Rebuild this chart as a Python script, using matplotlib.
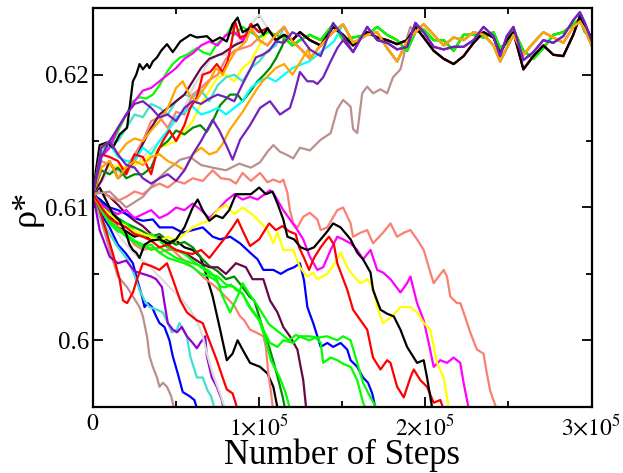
import matplotlib
matplotlib.use('Agg')
import matplotlib.pyplot as plt
from matplotlib.ticker import FixedLocator

plt.rcParams['mathtext.fontset'] = 'stix'
plt.rcParams['font.family'] = ['Liberation Serif', 'DejaVu Serif']

STEP_UNIT = 1000  # x lists below are in thousands of steps

# ---------------- colours (xmgrace palette) ----------------
BLACK = '#000000'; RED = '#ff0000'; LIME = '#00ff00'; BLUE = '#0000ff'
YELLOW = '#ffff00'; BROWN = '#bc8f8f'; GREY = '#dcdcdc'; VIOLET = '#9400d3'
CYAN = '#00ffff'; MAGENTA = '#ff00ff'; ORANGE = '#ffa500'; INDIGO = '#7221bc'
MAROON = '#670748'; TURQ = '#40e0d0'; DKGREEN = '#008b00'; SALMON = '#fa8072'

# ---------------- runs that fall (lower branch) ----------------
brown_lo_x = [0,5,10,15,20.5,24,28,30,32.5,34,36,38.5,40,42,44.5,47,49.5]
brown_lo_y = [.6110,.6090,.6068,.6048,.6040,.6033,.6025,.6018,.6003,.5988,.5980,.5972,.5965,.5968,.5965,.5958,.5945]

blue_lo_x = [0,5,10,15,20,24,26.5,29.5,31,33,35.5,38,40,43,46,48,51,54,58,61,63.5]
blue_lo_y = [.6110,.6095,.6085,.6072,.6065,.6058,.6046,.6033,.6025,.6028,.6025,.6018,.6013,.6010,.6000,.5988,.5975,.5961,.5958,.5955,.5945]

turq_lo_x = [0,5,10,15,20,24,28,31,34,38.5,42,45,47.5,50.5,52,54,56.5,58.5,62.5,66,69,71,73.5]
turq_lo_y = [.6110,.6092,.6080,.6070,.6062,.6052,.6038,.6030,.6025,.6023,.6021,.6013,.6006,.6008,.6013,.6008,.6003,.5988,.5972,.5972,.5962,.5958,.5947]

violet_lo_x = [0,4,7,10,15,20,25,30,35,38,41.5,43,45,48,50.5,53.5,56.5,60,62.5,64.5,67.5,68.5,71.5,74.5,77.5,79]
violet_lo_y = [.6110,.6083,.6073,.6063,.6058,.6060,.6052,.6050,.6048,.6046,.6040,.6028,.6013,.6008,.6006,.6010,.6003,.5998,.5994,.5998,.6003,.5988,.5972,.5965,.5955,.5946]

grey_lo_x = [0,5,10,15,20,25,30,35,38,41.5,46,52,58.5,63,66,69,72,76.5,80]
grey_lo_y = [.6110,.6098,.6088,.6080,.6072,.6065,.6060,.6055,.6050,.6046,.6040,.6033,.6023,.6013,.6003,.5988,.5975,.5960,.5946]

red_lo1_x = [0,4,8,12,16,18,20.5,24,26.5,30,35,40,44.5,48,52.5,56.5,62.5,66,70.5,74.5,78,80.5,84,87.5]
red_lo1_y = [.6110,.6098,.6082,.6065,.6046,.6030,.6028,.6036,.6046,.6058,.6056,.6053,.6058,.6046,.6030,.6021,.6015,.6013,.5998,.5985,.5972,.5963,.5960,.5946]

black_lo1_x = [0,5,10,15,20,25,30,35,40,45,50,55,60,64.5,68,72,76.5,80.5,84,87,90,94.5,100.5,105,108.5,111.5]
black_lo1_y = [.6110,.6105,.6095,.6085,.6082,.6078,.6080,.6075,.6078,.6072,.6075,.6070,.6068,.6063,.6050,.6033,.6008,.5985,.5990,.6000,.5993,.5983,.5980,.5975,.5965,.5946]

salmon_lo1_x = [0,5,10,15,20,25,30,36,40,44,48,53,57,62,66,70,74,78,82,85,88.5,91,94.5,98,102.5,104,105.5,107,108.5]
salmon_lo1_y = [.6110,.6100,.6092,.6085,.6080,.6072,.6068,.6070,.6066,.6068,.6068,.6062,.6058,.6053,.6048,.6044,.6040,.6035,.6030,.6026,.6018,.6015,.6008,.6006,.6003,.5995,.5975,.5962,.5946]

dkgreen_lo_x = [0,5,10,15,20,25,30,35,40,45,50,55,60,65,70,75,80,85,90,94,97,100,103,106,109,112,114,116]
dkgreen_lo_y = [.6110,.6105,.6098,.6092,.6088,.6085,.6082,.6078,.6080,.6075,.6072,.6074,.6070,.6062,.6056,.6052,.6046,.6048,.6040,.6033,.6030,.6018,.6005,.5995,.5982,.5968,.5958,.5946]

lime_lo1_x = [0,5,10,15,20,25,30,35,40,45,50,55,60,65,70,74,77,80,83,86,90,94,97,100,104,107,110,113,116,119]
lime_lo1_y = [.6110,.6098,.6090,.6084,.6078,.6074,.6070,.6072,.6066,.6062,.6060,.6058,.6055,.6050,.6048,.6045,.6040,.6040,.6042,.6038,.6035,.6025,.6020,.6015,.6000,.5985,.5978,.5970,.5960,.5946]

maroon_lo_x = [0,5,10,15,20,25,30,35,40,45,50,55,60,65,70,75,80,86,92,96,100,102.5,106.5,111,114.5,118.5,123,124.5,126.5,128.5]
maroon_lo_y = [.6110,.6112,.6108,.6102,.6095,.6090,.6086,.6080,.6075,.6070,.6068,.6066,.6062,.6058,.6055,.6055,.6050,.6058,.6055,.6046,.6046,.6046,.6030,.6021,.6010,.6003,.5993,.5983,.5970,.5946]

blue_lo2_x = [0,5,10,15,20,25,30,36,40,48,54,60,66,72,76.5,82.5,88.5,94.5,99,102.5,108.5,113,117,121,124.5,127,129,131,132.5,135,137,141,144.5,149,153,155,159,162.5,165.5,168,170.5]
blue_lo2_y = [.6110,.6105,.6100,.6098,.6095,.6092,.6090,.6091,.6085,.6085,.6081,.6083,.6085,.6078,.6076,.6078,.6073,.6066,.6061,.6053,.6053,.6050,.6053,.6055,.6058,.6045,.6025,.6018,.6013,.6003,.5995,.5998,.5995,.5998,.5993,.5985,.5980,.5972,.5968,.5960,.5946]

lime_lo2_x = [0,5,10,15,20,25,30,35,40,45,50,55,60,65,70,75,80,85,90,94.5,100.5,102.5,106.5,111,114.5,120.5,124.5,130.5,135,141,147,150.5,155,159,162.5,167,172]
lime_lo2_y = [.6110,.6102,.6095,.6090,.6088,.6082,.6078,.6080,.6075,.6070,.6068,.6065,.6060,.6055,.6050,.6048,.6042,.6040,.6035,.6025,.6015,.6008,.5998,.5995,.6000,.5998,.6003,.6003,.6002,.6003,.6000,.6003,.6000,.5983,.5968,.5957,.5946]

lime_lo3_x = [0,5,10,15,20,25,30,35,40,45,50,55,60,65,70,74.5,78,82.5,87,90,94,98,102,106,110,114,118,122,126,130,134,137,138.5,143,147,151,155,159,162.5,165]
lime_lo3_y = [.6110,.6098,.6088,.6082,.6080,.6075,.6072,.6068,.6070,.6066,.6062,.6060,.6058,.6056,.6052,.6046,.6033,.6021,.6033,.6043,.6035,.6028,.6020,.6012,.6008,.6004,.6000,.6004,.6002,.6000,.6002,.5998,.5983,.5987,.5985,.5982,.5980,.5970,.5953,.5946]

black_lo2_x = [0,4,8,12,16,20,22,24,26,28,31,35,40,45,50,55,60,63,66,70,74,78,82,86,90,95,100,104,108,111,114.5,117,121,125,129,133,137,141,144.5,149,155,159,162.5,167,168.5,173,177,181,185,189,195,199,201,204.5]
black_lo2_y = [.6110,.6115,.6105,.6095,.6090,.6080,.6072,.6068,.6066,.6062,.6072,.6075,.6076,.6073,.6076,.6085,.6100,.6106,.6098,.6090,.6094,.6092,.6098,.6110,.6110,.6110,.6115,.6110,.6112,.6103,.6091,.6078,.6076,.6070,.6068,.6070,.6076,.6082,.6088,.6085,.6076,.6066,.6061,.6051,.6038,.6023,.6020,.6018,.6008,.5995,.5983,.5985,.5972,.5946]

red_lo2_x = [0,5,10,15,20,25,30,35,40,45,50,55,60,65,70,75,80,84,87,91,94.5,100,106,110,114,118,122,124,127,130,133,137,140,142,145,147,150,153,156.5,161,165,168.5,173,177,179,183,187,191,193,197,201,205,209,211.5]
red_lo2_y = [.6110,.6100,.6092,.6088,.6085,.6080,.6078,.6075,.6070,.6072,.6068,.6066,.6065,.6068,.6062,.6070,.6078,.6085,.6091,.6080,.6071,.6076,.6088,.6083,.6086,.6082,.6080,.6070,.6062,.6053,.6062,.6070,.6075,.6078,.6072,.6058,.6048,.6038,.6023,.6015,.6008,.5987,.5978,.5985,.5983,.5965,.5957,.5972,.5978,.5970,.5965,.5953,.5955,.5946]

yellow_lo_x = [0,5,10,15,20,25,30,35,40,45,50,55,60,65,70,75,80,85,90,94.5,99,105,108.5,111,114.5,120.5,124.5,129,132.5,135,141,147,149,153,157,161,165,168.5,171,174.5,180,185,191,195,199,203,207,211,214.5]
yellow_lo_y = [.6110,.6100,.6095,.6090,.6085,.6082,.6080,.6078,.6075,.6078,.6075,.6080,.6085,.6088,.6090,.6098,.6102,.6095,.6100,.6096,.6091,.6083,.6073,.6081,.6068,.6068,.6055,.6048,.6051,.6046,.6050,.6061,.6066,.6055,.6048,.6043,.6046,.6040,.6025,.6013,.6018,.6025,.6025,.6021,.6013,.6008,.5983,.5972,.5946]

magenta_lo_x = [0,5,10,15,20,25,30,35,40,45,50,55,60,65,70,75,80,85,90,94.5,99,106.5,108.5,114.5,118.5,123,126.5,130.5,135,138.5,143,147,150.5,155,159,162.5,167,171,174.5,179,185,189,191,195,199,202,205,209,213,217,221,223,226.5]
magenta_lo_y = [.6110,.6102,.6098,.6095,.6098,.6092,.6095,.6098,.6092,.6095,.6100,.6098,.6103,.6098,.6092,.6098,.6105,.6110,.6106,.6108,.6106,.6113,.6111,.6098,.6091,.6083,.6076,.6063,.6053,.6055,.6068,.6078,.6076,.6073,.6068,.6061,.6068,.6053,.6051,.6046,.6036,.6043,.6048,.6028,.6015,.5998,.5980,.5985,.5983,.5987,.5983,.5968,.5946]

salmon_lo2_x = [0,5,10,15,20,25,30,35,40,45,50,55,60,66,72,77,82.5,86,90,95,100.5,105,108.5,112.5,114.5,117,118.5,120.5,123,126.5,130.5,135,137,141,147,150.5,155,156.5,161,165,168.5,174.5,179,183,187,191,195,199,203,205,208,211,213,215,219,221,223,227,231,235,237,239,243.5]
salmon_lo2_y = [.6110,.6112,.6108,.6105,.6108,.6112,.6110,.6115,.6118,.6115,.6120,.6118,.6122,.6120,.6128,.6122,.6121,.6118,.6126,.6120,.6126,.6119,.6121,.6119,.6121,.6111,.6098,.6088,.6085,.6093,.6096,.6091,.6083,.6085,.6098,.6100,.6088,.6078,.6081,.6083,.6073,.6081,.6088,.6078,.6081,.6083,.6076,.6068,.6051,.6043,.6048,.6053,.6048,.6033,.6028,.6028,.6021,.6006,.5993,.5990,.5975,.5962,.5946]

# ---------------- common plateau (upper branch) ----------------
plateau_x = [85,90,95,100,105,110,115,120,124.5,130.5,137,144.5,150.5,156.5,165,171,177,183,189,194,
             199,205,211,217,223,229,235,241,245,249,253,259,265,271,277,283,289,293,296,300]
plateau_a = [.6232,.6238,.6230,.6236,.6228,.6232,.6224,.6232,.6229,.6219,.6214,.6239,.6229,.6217,.6236,.6226,.6224,.6219,.6221,.6239,
             .6232,.6221,.6219,.6221,.6221,.6226,.6236,.6229,.6214,.6229,.6236,.6211,.6217,.6226,.6224,.6229,.6241,.6247,.6239,.6226]
plateau_b = [.6235,.6230,.6238,.6232,.6235,.6226,.6230,.6226,.6232,.6226,.6222,.6236,.6230,.6222,.6232,.6228,.6226,.6223,.6226,.6236,
             .6228,.6218,.6212,.6208,.6214,.6224,.6232,.6228,.6216,.6226,.6232,.6204,.6214,.6222,.6215,.6214,.6230,.6244,.6236,.6228]
plateau_c = [.6228,.6226,.6235,.6226,.6222,.6230,.6236,.6225,.6220,.6212,.6222,.6232,.6238,.6224,.6230,.6232,.6220,.6210,.6225,.6232,
             .6238,.6230,.6222,.6228,.6226,.6232,.6230,.6222,.6210,.6220,.6230,.6215,.6224,.6232,.6228,.6224,.6236,.6240,.6234,.6222]
plateau_d = [.6230,.6236,.6232,.6228,.6232,.6230,.6228,.6222,.6226,.6230,.6226,.6238,.6226,.6228,.6230,.6236,.6230,.6226,.6218,.6232,
             .6234,.6226,.6226,.6218,.6230,.6230,.6228,.6232,.6220,.6224,.6234,.6218,.6212,.6220,.6230,.6232,.6238,.6242,.6232,.6230]

# ---------------- runs that rise (before reaching the plateau) ----------------
black_up_x = [0,2,4,8.5,12,16,20.5,22,24,26,28,30,32.5,34,36,38.5,41,44.5,48,52.5,58.5,62.5,68.5,72,76.5,80.5,84,87,90,94.5,99,102.5]
black_up_y = [.6110,.6130,.6147,.6149,.6145,.6155,.6160,.6175,.6195,.6200,.6208,.6204,.6208,.6205,.6210,.6213,.6218,.6223,.6217,.6225,.6230,.6228,.6229,.6225,.6228,.6225,.6238,.6243,.6232,.6235,.6238,.6230]

lime_up_x = [0,4,8,12,16,20,24,28,32,36,40,44.5,48,52.5,56.5,62.5,66,70.5,74.5,80.5,84]
lime_up_y = [.6110,.6135,.6148,.6150,.6160,.6170,.6180,.6183,.6182,.6185,.6192,.6202,.6208,.6213,.6215,.6220,.6217,.6215,.6223,.6230,.6238]

magenta_up_x = [0,5,10,15,20,25,30,35,40,45,50,55,60,65,70,75,80,85]
magenta_up_y = [.6110,.6138,.6145,.6160,.6170,.6180,.6188,.6190,.6195,.6200,.6205,.6212,.6216,.6222,.6225,.6222,.6230,.6232]

maroon_up_x = [0,5,10,15,20,25,30,35,40,45,50,55,60,65,70,78,85,90]
maroon_up_y = [.6110,.6120,.6135,.6122,.6128,.6135,.6148,.6160,.6170,.6175,.6180,.6185,.6195,.6205,.6212,.6216,.6222,.6225]

salmon_up_x = [0,5,10,15,20,25,30,35,40,45,50,55,60,65,70,75,80,85,90,95]
salmon_up_y = [.6110,.6135,.6132,.6128,.6130,.6140,.6150,.6165,.6168,.6160,.6172,.6170,.6185,.6190,.6196,.6200,.6212,.6218,.6220,.6222]

grey_up_x = [0,10,20,30,40,50,55,60,65,70,75,80,85,90,95,100]
grey_up_y = [.6110,.6128,.6125,.6138,.6150,.6165,.6175,.6190,.6200,.6210,.6215,.6215,.6222,.6230,.6238,.6245]

yellow_up_x = [0,10,20,30,40,50,60,65,70,75,80,85,90,95,100]
yellow_up_y = [.6110,.6132,.6130,.6135,.6145,.6150,.6165,.6178,.6188,.6198,.6200,.6195,.6205,.6210,.6222]

turq_up_x = [0,5,10,15,20,25,30,35,40,45,50,55,60,65,70,75,80,85,90,95,100,105,110]
turq_up_y = [.6110,.6138,.6148,.6150,.6160,.6170,.6168,.6178,.6175,.6170,.6180,.6185,.6183,.6188,.6180,.6192,.6198,.6200,.6195,.6205,.6210,.6218,.6222]

dkgreen_up_x = [0,5,10,15,20,25,30,35,40,45,50,55,60,64.5,68.5,72,76.5,82.5,87,90,95,99,103,106.5,110,114]
dkgreen_up_y = [.6110,.6128,.6125,.6130,.6122,.6125,.6125,.6130,.6145,.6150,.6158,.6155,.6160,.6162,.6157,.6165,.6177,.6185,.6185,.6180,.6188,.6195,.6200,.6205,.6212,.6222]

cyan_up_x = [0,5,10,15,20,25,30,35,40,45,50,55,60,65,70,75,80,85,90,95,100,105,110,115,120,130,138,145]
cyan_up_y = [.6110,.6140,.6148,.6138,.6135,.6135,.6145,.6140,.6150,.6158,.6168,.6172,.6176,.6170,.6172,.6175,.6170,.6175,.6180,.6190,.6195,.6198,.6195,.6200,.6205,.6210,.6218,.6225]

red_up_x = [0,5,10,15,20,25,30,35,38,42,46,50,55,58.5,62.5,66,70.5,74.5,78,81,83.5,85.5,88.5,93]
red_up_y = [.6110,.6140,.6138,.6135,.6125,.6140,.6138,.6125,.6140,.6150,.6158,.6150,.6162,.6175,.6183,.6200,.6202,.6208,.6202,.6210,.6225,.6240,.6228,.6230]

brown_up_x = [0,10,20,30,38,44.5,52.5,58.5,65,72,80,88,95,100.5,105,108.5,112.5,116,120.5,124.5,
              130.5,137,143,147,150.5,155,156.5,159,162,165,168.5,173,177,180.5,185,187,189,191]
brown_up_y = [.6110,.6112,.6100,.6108,.6120,.6128,.6136,.6138,.6132,.6130,.6128,.6133,.6130,.6134,.6142,.6147,.6142,.6140,.6137,.6145,
              .6143,.6151,.6156,.6174,.6181,.6176,.6159,.6156,.6186,.6191,.6186,.6189,.6186,.6198,.6204,.6214,.6228,.6236]

orangeB_up_x = [0,5,10,15,20,25,30,35,40,45,50,55,60,65,70,74.5,78,82,86,90,94,98,102,106,110,115,120,125,130]
orangeB_up_y = [.6110,.6130,.6135,.6122,.6130,.6135,.6132,.6138,.6140,.6135,.6132,.6128,.6140,.6145,.6140,.6142,.6148,.6158,.6165,.6172,.6180,.6188,.6195,.6200,.6205,.6208,.6200,.6210,.6220]

orangeA_up_x = [0,5,10,15,20,25,30,35,40,45,50,54,58,62,66,70,74,78,82,86,92]
orangeA_up_y = [.6110,.6145,.6150,.6140,.6148,.6152,.6150,.6158,.6165,.6175,.6190,.6195,.6185,.6180,.6188,.6195,.6205,.6200,.6210,.6218,.6225]

indigoA_up_x = [0,5,10,15,20,25,30,35,40,45,50,55,60,65,70,75,80,85,90,95,98,102,106,110]
indigoA_up_y = [.6110,.6138,.6150,.6160,.6170,.6178,.6180,.6175,.6168,.6170,.6165,.6175,.6180,.6178,.6182,.6185,.6183,.6180,.6193,.6205,.6213,.6215,.6218,.6225]

indigoB_up_x = [0,5,10,15,20,25,30,35,40,45,50,55,60,65,72,76,80.5,84,88.5,94.5,
                100.5,106.5,112.5,118.5,121,124.5,129,132.5,135,138.5,143,147,150.5]
indigoB_up_y = [.6110,.6145,.6150,.6140,.6132,.6130,.6122,.6118,.6122,.6125,.6120,.6128,.6140,.6150,.6166,.6158,.6146,.6136,.6151,.6162,
                .6175,.6180,.6170,.6175,.6185,.6202,.6195,.6195,.6193,.6198,.6210,.6220,.6226]

lower_runs = [
    (brown_lo_x, brown_lo_y, BROWN), (blue_lo_x, blue_lo_y, BLUE), (turq_lo_x, turq_lo_y, TURQ),
    (violet_lo_x, violet_lo_y, VIOLET), (grey_lo_x, grey_lo_y, GREY), (red_lo1_x, red_lo1_y, RED),
    (black_lo1_x, black_lo1_y, BLACK), (salmon_lo1_x, salmon_lo1_y, SALMON),
    (dkgreen_lo_x, dkgreen_lo_y, DKGREEN), (lime_lo1_x, lime_lo1_y, LIME),
    (maroon_lo_x, maroon_lo_y, MAROON), (blue_lo2_x, blue_lo2_y, BLUE),
    (lime_lo2_x, lime_lo2_y, LIME), (lime_lo3_x, lime_lo3_y, LIME),
    (salmon_lo2_x, salmon_lo2_y, SALMON), (magenta_lo_x, magenta_lo_y, MAGENTA),
    (yellow_lo_x, yellow_lo_y, YELLOW), (red_lo2_x, red_lo2_y, RED),
    (black_lo2_x, black_lo2_y, BLACK),
]

upper_runs = [
    (brown_up_x, brown_up_y, plateau_d, BROWN), (salmon_up_x, salmon_up_y, plateau_d, SALMON),
    (grey_up_x, grey_up_y, plateau_b, GREY), (yellow_up_x, yellow_up_y, plateau_d, YELLOW),
    (turq_up_x, turq_up_y, plateau_c, TURQ), (maroon_up_x, maroon_up_y, plateau_b, MAROON),
    (dkgreen_up_x, dkgreen_up_y, plateau_d, DKGREEN), (lime_up_x, lime_up_y, plateau_d, LIME),
    (magenta_up_x, magenta_up_y, plateau_c, MAGENTA), (cyan_up_x, cyan_up_y, plateau_c, CYAN),
    (red_up_x, red_up_y, plateau_b, RED), (black_up_x, black_up_y, plateau_b, BLACK),
    (orangeB_up_x, orangeB_up_y, plateau_c, ORANGE), (orangeA_up_x, orangeA_up_y, plateau_c, ORANGE),
    (indigoA_up_x, indigoA_up_y, plateau_a, INDIGO), (indigoB_up_x, indigoB_up_y, plateau_a, INDIGO),
]

fig = plt.figure(figsize=(6.23, 4.73), dpi=100)
ax = fig.add_axes([0.1493, 0.1402, 0.8002, 0.8423])

LW = 1.6
for xs, ys, col in lower_runs:
    ax.plot([v * STEP_UNIT for v in xs], ys, color=col, lw=LW, solid_joinstyle='round')

for xs, ys, plat, col in upper_runs:
    tail = [(px, py) for px, py in zip(plateau_x, plat) if px > xs[-1]]
    fx = list(xs) + [t[0] for t in tail]
    fy = list(ys) + [t[1] for t in tail]
    ax.plot([v * STEP_UNIT for v in fx], fy, color=col, lw=LW, solid_joinstyle='round')

ax.set_xlim(0, 300000)
ax.set_ylim(0.595, 0.625)

x_ticks = [0, 100000, 200000, 300000]
x_labels = [r'$0$', r'$1{\times}10^{5}$', r'$2{\times}10^{5}$', r'$3{\times}10^{5}$']
y_ticks = [0.60, 0.61, 0.62]
y_labels = ['0.6', '0.61', '0.62']

ax.xaxis.set_major_locator(FixedLocator(x_ticks))
ax.xaxis.set_minor_locator(FixedLocator([50000, 150000, 250000]))
ax.yaxis.set_major_locator(FixedLocator(y_ticks))
ax.yaxis.set_minor_locator(FixedLocator([0.605, 0.615]))
ax.set_xticklabels(x_labels, fontsize=17)
ax.set_yticklabels(y_labels, fontsize=18)

ax.tick_params(which='both', direction='in', top=True, right=True, width=1.3)
ax.tick_params(which='major', length=7)
ax.tick_params(which='minor', length=4)
ax.tick_params(axis='x', which='major', pad=5)
ax.tick_params(axis='y', which='major', pad=3)
for s in ax.spines.values():
    s.set_linewidth(1.6)

ax.set_xlabel('Number of Steps', fontsize=25, labelpad=-1)
ax.set_ylabel('ρ*', fontsize=26, labelpad=2)

fig.savefig('out.png', dpi=100)
